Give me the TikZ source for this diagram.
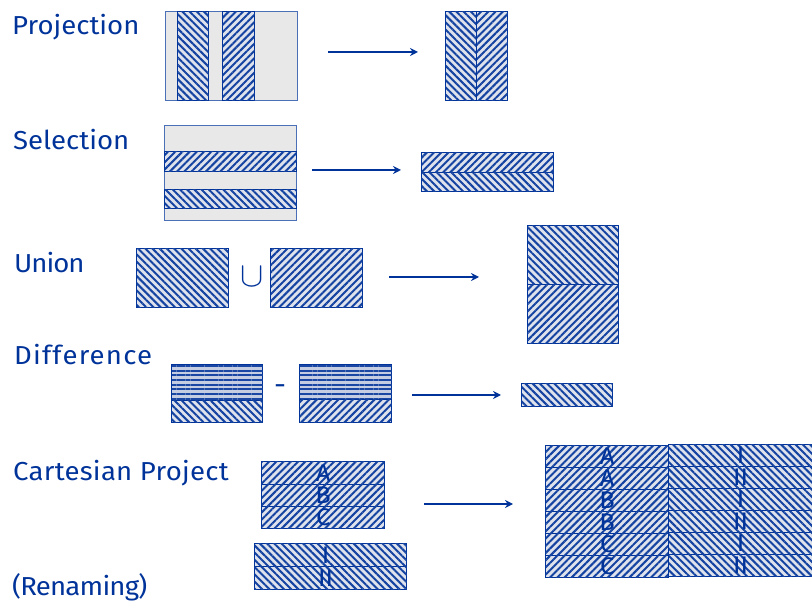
\documentclass[tikz,border=0pt]{standalone}
\usepackage{fontspec}
\usepackage{graphicx}
\setmainfont[FakeStretch=1.06]{Fira Sans}
\usetikzlibrary{patterns.meta,arrows.meta}
\definecolor{ink}{RGB}{0,51,153}
\definecolor{graybg}{RGB}{232,232,232}
\definecolor{hatchbg}{RGB}{222,226,236}
\definecolor{hzbg}{RGB}{196,205,226}
\tikzset{
  x=1pt,y=-1pt,
  lab/.style={anchor=base west,text=ink,font=\fontsize{26}{26}\selectfont,inner sep=0pt},
  box/.style={draw=ink,line width=1.3pt,inner sep=0pt,anchor=north west,text=ink,font=\rmfamily\fontsize{24}{24}\selectfont},
  graybox/.style={box,fill=graybg,draw=ink!70,line width=1.2pt},
  se/.style={box,fill=hatchbg,postaction={pattern={Lines[angle=-45,distance=5.1pt,line width=2pt]},pattern color=ink!92}},
  ne/.style={box,fill=hatchbg,postaction={pattern={Lines[angle=45,distance=5.1pt,line width=2pt]},pattern color=ink!92}},
  hz/.style={box,fill=hzbg,postaction={pattern={Lines[angle=0,distance=4.7pt,line width=2pt]},pattern color=ink!90}},
  arr/.style={draw=ink,line width=2.4pt,-{Stealth[length=8pt,width=8pt]}},
  sz/.style 2 args={minimum width=#1pt,minimum height=#2pt},
}
\newcommand{\shiftI}{\kern-10pt}
\newcommand{\shiftR}{\kern-6pt}
\begin{document}
\begin{tikzpicture}
\useasboundingbox (0,0) rectangle (812,601);
% labels
\node[lab] (l1) at (12,35) {Projection};
\node[lab] (l2) at (13,150) {Selection};
\node[lab] (l3) at (14,273) {\addfontfeature{LetterSpace=-4}Union};
\node[lab] (l4) at (14,365) {\addfontfeature{LetterSpace=4.5}Difference};
\node[lab] (l5) at (13,481) {\addfontfeature{LetterSpace=1}Cartesian Project};
\node[lab] (l6) at (12,595) {\addfontfeature{LetterSpace=-3}(Renaming)};
% projection
\node[graybox,sz={132}{89}] (p0) at (165,11) {};
\node[se,sz={31}{89}] (p1) at (177,11) {};
\node[ne,sz={32}{89}] (p2) at (222,11) {};
\node[se,sz={31}{89}] (p3) at (445,11) {};
\node[ne,sz={31}{89}] (p4) at (476,11) {};
\coordinate (pa) at (328,52); \coordinate (pb) at (418,52);
\draw[arr] (pa) -- (pb);
% selection
\node[graybox,sz={132}{95}] (s0) at (164,125) {};
\node[ne,sz={132}{20}] (s1) at (164,151) {};
\node[se,sz={132}{19}] (s2) at (164,189) {};
\node[ne,sz={132}{20}] (s3) at (421,152) {};
\node[se,sz={132}{19}] (s4) at (421,172) {};
\coordinate (sa) at (312,170); \coordinate (sb) at (401,170);
\draw[arr] (sa) -- (sb);
% union
\node[se,sz={92}{59}] (u1) at (136,248) {};
\node[text=ink,inner sep=0pt,font=\fontsize{24.88}{26}\selectfont] (u0) at (252,277) {\scalebox{1.4}{$\cup$}};
\node[ne,sz={92}{59}] (u2) at (270,248) {};
\node[se,sz={91}{59}] (u3) at (527,225) {};
\node[ne,sz={91}{59}] (u4) at (527,284) {};
\coordinate (ua) at (389,277); \coordinate (ub) at (479,277);
\draw[arr] (ua) -- (ub);
% difference
\node[hz,sz={91}{36}] (d1) at (171,364) {};
\node[se,sz={91}{22}] (d2) at (171,400) {};
\node[text=ink,inner sep=0pt,font=\fontsize{28}{28}\selectfont] (d0) at (280,390) {-};
\node[hz,sz={92}{35}] (d3) at (299,364) {};
\node[ne,sz={92}{23}] (d4) at (299,399) {};
\node[se,sz={91}{23}] (d5) at (521,383) {};
\coordinate (da) at (412,395); \coordinate (db) at (501,395);
\draw[arr] (da) -- (db);
% cartesian
\node[ne,sz={123}{23}] (c1) at (261,461) {A};
\node[ne,sz={123}{22}] (c2) at (261,484) {B};
\node[ne,sz={123}{22}] (c3) at (261,506) {C};
\node[se,sz={152}{23}] (c4) at (254,543) {\shiftI I};
\node[se,sz={152}{23}] (c5) at (254,566) {\shiftI II};
\coordinate (ca) at (424,504); \coordinate (cb) at (513,504);
\draw[arr] (ca) -- (cb);
\node[ne,sz={123}{22}] (r1) at (545,445) {A};
\node[ne,sz={123}{22}] (r2) at (545,467) {A};
\node[ne,sz={123}{22}] (r3) at (545,489) {B};
\node[ne,sz={123}{22}] (r4) at (545,511) {B};
\node[ne,sz={123}{22}] (r5) at (545,533) {C};
\node[ne,sz={123}{22}] (r6) at (545,555) {C};
\node[se,sz={150}{22}] (q1) at (668,444) {\shiftR I};
\node[se,sz={150}{22}] (q2) at (668,466) {\shiftR II};
\node[se,sz={150}{22}] (q3) at (668,488) {\shiftR I};
\node[se,sz={150}{22}] (q4) at (668,510) {\shiftR II};
\node[se,sz={150}{22}] (q5) at (668,532) {\shiftR I};
\node[se,sz={150}{22}] (q6) at (668,554) {\shiftR II};
\end{tikzpicture}
\end{document}
